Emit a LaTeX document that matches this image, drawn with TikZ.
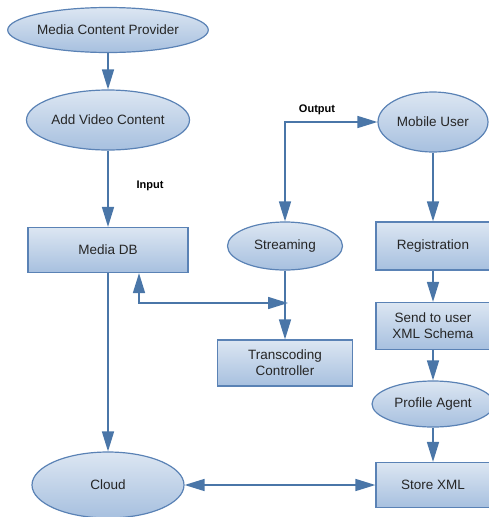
\documentclass[tikz,border=0pt]{standalone}
\usepackage{fontspec}
\setmainfont{Liberation Sans}
\usetikzlibrary{shapes.geometric,arrows.meta}
\definecolor{edgeblue}{HTML}{4A76A8}
\definecolor{fillhi}{HTML}{DCE6F2}
\definecolor{filllo}{HTML}{A7C0DF}
\definecolor{rimblue}{HTML}{5A82B5}
\tikzstyle{every node}=[font=\fontsize{13.5}{16}\selectfont, text=black!85, inner sep=0pt]
\tikzstyle{bubble}=[ellipse, draw=rimblue, line width=1.2pt, top color=fillhi, bottom color=filllo]
\tikzstyle{block}=[rectangle, draw=rimblue, line width=1.2pt, top color=fillhi, bottom color=filllo, align=center]
\tikzstyle{flow}=[draw=edgeblue, line width=1.6pt]
\tikzstyle{tag}=[font=\fontsize{11}{13}\selectfont\bfseries, text=black]
\tikzset{>={Triangle[length=20pt,width=12pt]}}

\begin{document}
\begin{tikzpicture}[x=1pt,y=1pt]
\useasboundingbox (0,0) rectangle (489,-517);

\node (provider)     [bubble, minimum width=187pt, minimum height=45pt] at (108,-30) {Media Content Provider};
\node (addvideo)     [bubble, node distance=90pt, below of = provider, minimum width=163pt, minimum height=60pt] {Add Video Content};
\node (mediadb)      [block, node distance=130pt, below of = addvideo, minimum width=160pt, minimum height=45pt] {Media DB};
\node (cloud)        [bubble, node distance=235pt, below of = mediadb, minimum width=152pt, minimum height=66pt] {Cloud};
\node (storexml)     [block, node distance=325pt, right of = cloud, minimum width=114pt, minimum height=45pt] {Store XML};
\node (profile)      [bubble, node distance=81pt, above of = storexml, minimum width=122pt, minimum height=46pt] {Profile Agent};
\node (schema)       [block, node distance=78pt, above of = profile, minimum width=114pt, minimum height=47pt] {Send to user\\XML Schema};
\node (registration) [block, node distance=80pt, above of = schema, minimum width=114pt, minimum height=48pt] {Registration};
\node (mobile)       [bubble, node distance=124pt, above of = registration, minimum width=110pt, minimum height=60pt] {Mobile User};
\node (streaming)    [bubble, node distance=148pt, left of = registration, minimum width=115pt, minimum height=48pt] {Streaming};
\node (transcoding)  [block, node distance=117pt, below of = streaming, minimum width=135pt, minimum height=46pt] {Transcoding\\Controller};

\node (inputtag)  [tag] at (150,-186) {Input};
\node (outputtag) [tag] at (317,-110) {Output};
\coordinate (merge) at (288,-303);

\draw [flow,->]  (provider)     -- (addvideo);
\draw [flow,->]  (addvideo)     -- (mediadb);
\draw [flow,->]  (mediadb)      -- (cloud);
\draw [flow,<->] (cloud)        -- (storexml);
\draw [flow,->]  (mobile)       -- (registration);
\draw [flow,->]  (registration) -- (schema);
\draw [flow,->]  (schema)       -- (profile);
\draw [flow,->]  (profile)      -- (storexml);
\draw [flow,<->] (streaming)    |- (mobile);
\draw [flow,->]  (streaming)    -- (transcoding);
\draw [flow,<->] ([xshift=31pt]mediadb.south) |- (merge);

\end{tikzpicture}
\end{document}
